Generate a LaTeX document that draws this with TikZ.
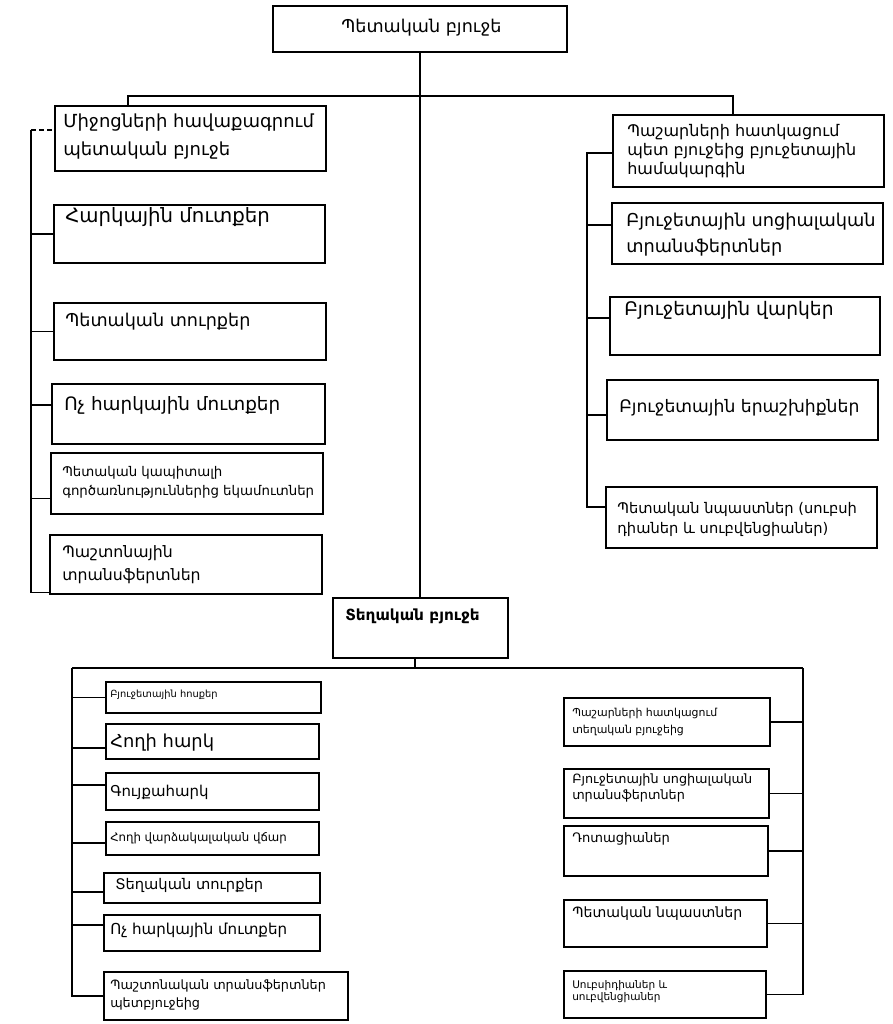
\documentclass[tikz,border=0pt]{standalone}
\usepackage{fontspec}
\setmainfont{DejaVu Sans}
\usetikzlibrary{fit}

\tikzset{
  boxframe/.style={draw, line width=1pt, inner sep=0pt},
  btext/.style={anchor=north west, inner sep=0pt, align=left},
  wire/.style={line width=1pt},
}
\newcommand\fs[2]{\fontsize{#1pt}{#2pt}\selectfont}
% #1 name, #2-#5 corners, #6 text corner, #7 font, #8 text
\newcommand\tbox[8]{%
  \node[boxframe, fit={(#2,#3) (#4,#5)}] (#1) {};
  \node[btext, font=#7] (#1-t) at (#6) {#8};}

\begin{document}
\begin{tikzpicture}[x=0.75pt, y=-0.75pt]
\fill[white] (0,0) rectangle (892,1024);
\useasboundingbox (0,0) rectangle (892,1024);

% state budget
\tbox{top}{273}{6}{567}{52}{341,19}{\fs{13.2}{16}}{Պետական բյուջե}

% revenues of the state budget
\tbox{L1}{55}{106}{326}{171}{63,114}{\fs{13.5}{21}}{Միջոցների հավաքագրում\\պետական բյուջե}
\tbox{L2}{54}{205}{325}{263}{65,207}{\fs{14.8}{18}}{Հարկային մուտքեր}
\tbox{L3}{54}{303}{326}{360}{65,313}{\fs{13.2}{18}}{Պետական տուրքեր}
\tbox{L4}{52}{384}{325}{444}{64,396}{\fs{13.8}{18}}{Ոչ հարկային մուտքեր}
\tbox{L5}{51}{453}{323}{514}{62,466}{\fs{10}{14.3}}{Պետական կապիտալի\\գործառնություններից եկամուտներ}
\tbox{L6}{50}{535}{322}{594}{62,545}{\fs{11.8}{17.5}}{Պաշտոնային\\տրանսֆերտներ}

% allocations of the state budget
\tbox{R1}{613}{115}{884}{187}{627,124}{\fs{12}{14.2}}{Պաշարների հատկացում\\պետ բյուջեից բյուջետային\\համակարգին}
\tbox{R2}{612}{203}{883}{264}{626,213}{\fs{13.3}{19}}{Բյուջետային սոցիալական\\տրանսֆերտներ}
\tbox{R3}{610}{297}{880}{355}{624,301}{\fs{14}{16}}{Բյուջետային վարկեր}
\tbox{R4}{607}{380}{878}{440}{619,399}{\fs{12.9}{15}}{Բյուջետային երաշխիքներ}
\tbox{R5}{606}{487}{877}{548}{617,502}{\fs{11}{15}}{Պետական նպաստներ (սուբսի\\դիաներ և սուբվենցիաներ)}

% local budget
\tbox{loc}{333}{598}{508}{658}{345,609}{\fs{11.5}{14}\bfseries}{Տեղական բյուջե}

% revenues of the local budget
\tbox{B1}{106}{682}{321}{713}{110,690}{\fs{7.4}{9}}{Բյուջետային հոսքեր}
\tbox{B2}{106}{724}{319}{759}{110,734}{\fs{13.4}{15}}{Հողի հարկ}
\tbox{B3}{106}{773}{319}{810}{110,785}{\fs{11.2}{14}}{Գույքահարկ}
\tbox{B4}{106}{822}{319}{855}{110,832}{\fs{8.8}{12}}{Հողի վարձակալական վճար}
\tbox{B5}{104}{873}{320}{903}{115,878}{\fs{11}{14}}{Տեղական տուրքեր}
\tbox{B6}{104}{915}{320}{951}{110,923}{\fs{11.3}{14}}{Ոչ հարկային մուտքեր}
\tbox{B7}{104}{972}{348}{1020}{110,979}{\fs{9.6}{14}}{Պաշտոնական տրանսֆերտներ\\պետբյուջեից}

% allocations of the local budget
\tbox{BR1}{564}{698}{770}{746}{572,708}{\fs{8.2}{12.75}}{Պաշարների հատկացում\\տեղական բյուջեից}
\tbox{BR2}{564}{769}{769}{818}{572,773}{\fs{9.6}{12}}{Բյուջետային սոցիալական\\տրանսֆերտներ}
\tbox{BR3}{564}{826}{768}{876}{572,832}{\fs{9.8}{14}}{Դոտացիաներ}
\tbox{BR4}{564}{900}{767}{947}{572,906}{\fs{10.6}{15}}{Պետական նպաստներ}
\tbox{BR5}{564}{971}{766}{1018}{572,980}{\fs{7.9}{9.5}}{Սուբսիդիաներ և\\սուբվենցիաներ}

% upper tree
\draw[wire] (top.south) -- (loc.north -| top.south);
\coordinate (busL) at (128,96);
\coordinate (busR) at (733,96);
\draw[wire] (busL |- L1.north) -- (busL) -- (busR) -- (busR |- R1.north);

\coordinate (ls) at (31,130);
\draw[wire, dash pattern=on 4pt off 2pt] (ls) -- (ls -| L1.west);
\draw[wire] (ls) |- ([yshift=1.5pt]L6.south west);
\draw[wire] (L2.west) -- (L2.west -| ls);
\draw[wire] (L3.west) -- (L3.west -| ls);
\draw[wire] ([yshift=6.75pt]L4.west) -- ([yshift=6.75pt]L4.west -| ls);
\draw[wire] ([yshift=-11pt]L5.west) -- ([yshift=-11pt]L5.west -| ls);

\coordinate (rs) at (587,153);
\draw[wire] (rs -| R1.west) -- (rs) |- ([yshift=7.9pt]R5.west);
\draw[wire] ([yshift=6.4pt]R2.west) -- ([yshift=6.4pt]R2.west -| rs);
\draw[wire] ([yshift=6pt]R3.west) -- ([yshift=6pt]R3.west -| rs);
\draw[wire] ([yshift=-3.75pt]R4.west) -- ([yshift=-3.75pt]R4.west -| rs);

% lower tree
\coordinate (bstem) at (415,668);
\coordinate (lbs) at (72,668);
\coordinate (rbs) at (803,668);
\draw[wire] (loc.south -| bstem) -- (bstem);
\draw[wire] (lbs) -- (rbs);
\draw[wire] (lbs) |- (B7.west);
\draw[wire] (B1.west) -- (B1.west -| lbs);
\draw[wire] ([yshift=-4.9pt]B2.west) -- ([yshift=-4.9pt]B2.west -| lbs);
\draw[wire] ([yshift=4.9pt]B3.west) -- ([yshift=4.9pt]B3.west -| lbs);
\draw[wire] ([yshift=-3.4pt]B4.west) -- ([yshift=-3.4pt]B4.west -| lbs);
\draw[wire] ([yshift=-3pt]B5.west) -- ([yshift=-3pt]B5.west -| lbs);
\draw[wire] ([yshift=6pt]B6.west) -- ([yshift=6pt]B6.west -| lbs);

\draw[wire] (rbs) |- (BR5.east);
\draw[wire] (BR1.east) -- (BR1.east -| rbs);
\draw[wire] (BR2.east) -- (BR2.east -| rbs);
\draw[wire] (BR3.east) -- (BR3.east -| rbs);
\draw[wire] (BR4.east) -- (BR4.east -| rbs);
\end{tikzpicture}
\end{document}
